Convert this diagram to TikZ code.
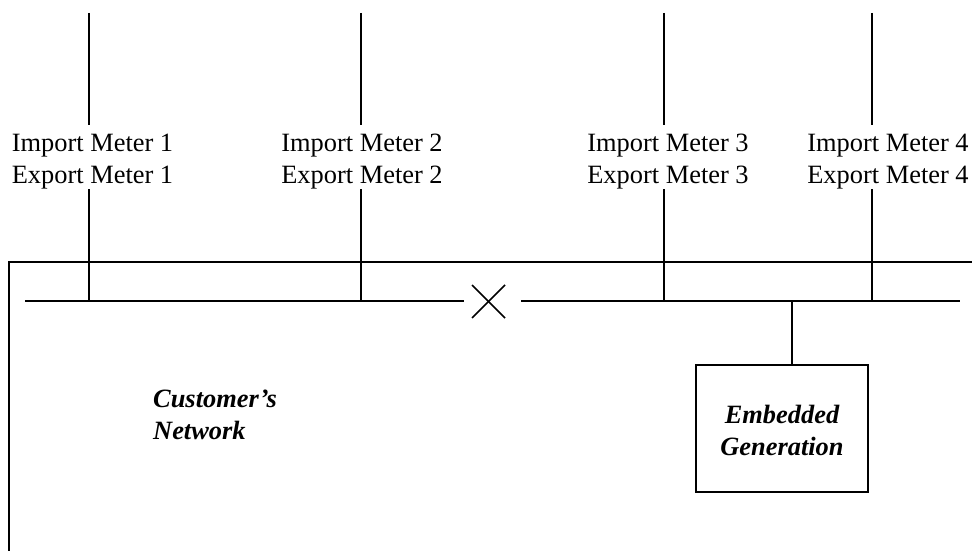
\documentclass[tikz,border=0pt]{standalone}
\usepackage{fontspec}
\setmainfont{Liberation Serif}
\tikzset{
  wire/.style={draw=black,line width=1.6pt},
  meter/.style={font=\fontsize{26.4}{31.5}\selectfont,align=center,inner sep=0pt,text=black},
  caption/.style={font=\fontsize{26.4}{32}\selectfont\bfseries\itshape,inner sep=0pt,text=black}
}
\begin{document}
\begin{tikzpicture}[x=1pt,y=-1pt,line cap=butt]
\useasboundingbox (0,0) rectangle (972,551);
\fill[white] (0,0) rectangle (972,551);
\coordinate (t1) at (89,13);\coordinate (t2) at (361,13);\coordinate (t3) at (664,13);\coordinate (t4) at (872,13);
\coordinate (a1) at (89,125);\coordinate (a2) at (361,125);\coordinate (a3) at (664,125);\coordinate (a4) at (872,125);
\coordinate (b1) at (89,189);\coordinate (b2) at (361,189);\coordinate (b3) at (664,189);\coordinate (b4) at (872,189);
\coordinate (c1) at (89,301);\coordinate (c2) at (361,301);\coordinate (c3) at (664,301);\coordinate (c4) at (872,301);
\coordinate (g) at (792,301);
\coordinate (nw) at (9,262);\coordinate (ne) at (972,262);\coordinate (sw) at (9,551);
\coordinate (l1) at (25,301);\coordinate (l2) at (464,301);\coordinate (r1) at (521,301);\coordinate (r2) at (960,301);
\coordinate (x1) at (472,285);\coordinate (x2) at (505,318);\coordinate (x3) at (505,285);\coordinate (x4) at (472,318);
\foreach \i in {1,2,3,4}{
  \draw[wire] (t\i) -- (a\i);
  \draw[wire] (b\i) -- (c\i);
}
\draw[wire] (ne) -- (nw) -- (sw);
\draw[wire] (l1) -- (l2);
\draw[wire] (r1) -- (r2);
\draw[wire] (x1) -- (x2);
\draw[wire] (x3) -- (x4);
\node[wire,outer sep=0pt,minimum width=172pt,minimum height=127pt,inner sep=0pt,anchor=north west] (eg) at (696,365) {};
\node[caption,align=center] (egt) at (782,430) {Embedded\\Generation};
\draw[wire] (g) -- (g |- eg.north);
\node[meter] (m1) at (92.5,161.5) {Import Meter 1\\Export Meter 1};
\node[meter] (m2) at (362,161.5) {Import Meter 2\\Export Meter 2};
\node[meter] (m3) at (668,161.5) {Import Meter 3\\Export Meter 3};
\node[meter] (m4) at (888,161.5) {Import Meter 4\\Export Meter 4};
\node[caption,align=left,anchor=north west] (cn) at (153,390) {Customer’s\\Network};
\end{tikzpicture}
\end{document}
